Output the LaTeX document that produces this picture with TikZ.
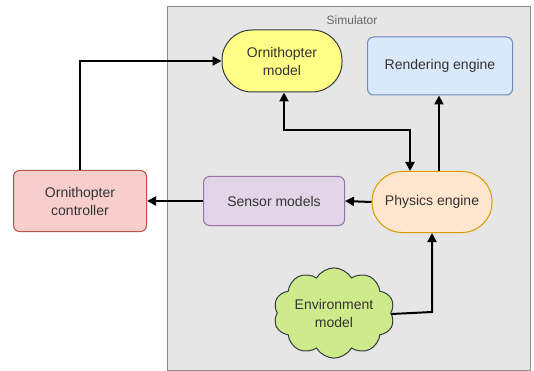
\documentclass[tikz,border=0pt]{standalone}
\usepackage{fontspec}
\setmainfont{Liberation Sans}
\usetikzlibrary{shapes.symbols,shapes.geometric,arrows.meta}
\definecolor{simfill}{HTML}{E6E6E6}
\definecolor{simline}{HTML}{8C8C8C}
\definecolor{yelfill}{HTML}{FFFF88}
\definecolor{yelline}{HTML}{36393D}
\definecolor{bluefill}{HTML}{DAE8FC}
\definecolor{blueline}{HTML}{6C8EBF}
\definecolor{orfill}{HTML}{FFE6CC}
\definecolor{orline}{HTML}{D79B00}
\definecolor{purfill}{HTML}{E1D5E7}
\definecolor{purline}{HTML}{9673A6}
\definecolor{redfill}{HTML}{F8CECC}
\definecolor{redline}{HTML}{B85450}
\definecolor{grnfill}{HTML}{CDEB8B}
\definecolor{grnline}{HTML}{36393D}
\definecolor{txt}{HTML}{333333}
\begin{document}
\begin{tikzpicture}[x=1pt,y=-1pt,
  base/.style={draw, line width=1pt, align=center, inner sep=0pt, text=txt, font=\fontsize{14}{18}\selectfont},
  boxr/.style={base, rounded corners=6pt, minimum width=#1},
  pill/.style={base, rounded corners=30pt},
  conn/.style={line width=2pt, -{Triangle[length=9pt,width=9pt]}},
  conn2/.style={line width=2pt, {Triangle[length=9pt,width=9pt]}-{Triangle[length=9pt,width=9pt]}}
]
\useasboundingbox (0,0) rectangle (534,371);
\fill[white] (0,0) rectangle (534,371);
\node[draw=simline, fill=simfill, line width=1pt, minimum width=363pt, minimum height=364pt, inner sep=0pt, anchor=north west] (sim) at (167,6) {};
\node[text=black!60, font=\fontsize{12}{14}\selectfont] (simlabel) at (352,20) {Simulator};

\node[pill, fill=yelfill, draw=yelline, minimum width=120pt, minimum height=62pt] (om) at (282,61) {Ornithopter\\model};
\node[boxr=145pt, fill=bluefill, draw=blueline, minimum height=58pt] (re) at (440,66) {Rendering engine};
\node[pill, fill=orfill, draw=orline, minimum width=120pt, minimum height=61pt] (pe) at (432,202) {Physics engine};
\node[boxr=141pt, fill=purfill, draw=purline, minimum height=49pt] (sm) at (274,201) {Sensor models};
\node[boxr=133pt, fill=redfill, draw=redline, minimum height=61pt] (oc) at (80,201) {Ornithopter\\controller};
\node[base, cloud, cloud puffs=10, cloud puff arc=120, aspect=1.5, fill=grnfill, draw=grnline, minimum width=121pt, minimum height=83pt] (env) at (334,313) {Environment\\model};

\draw[conn] (oc.north) |- (om.west);
\coordinate (c2) at (284,130);
\coordinate (c3) at (410,130);
\draw[conn2] ([xshift=2pt]om.south) -- (c2) -- (c3) -- (c3 |- pe.north);
\draw[conn] ([xshift=7pt]pe.north) -- ([xshift=7pt]pe.north |- re.south);
\draw[conn] (pe.west) -- (sm.east);
\draw[conn] (sm.west) -- (oc.east);
\coordinate (c4) at (432,312);
\draw[conn] ([yshift=-1pt]env.east) -- (c4) -- (pe.south);
\end{tikzpicture}
\end{document}
